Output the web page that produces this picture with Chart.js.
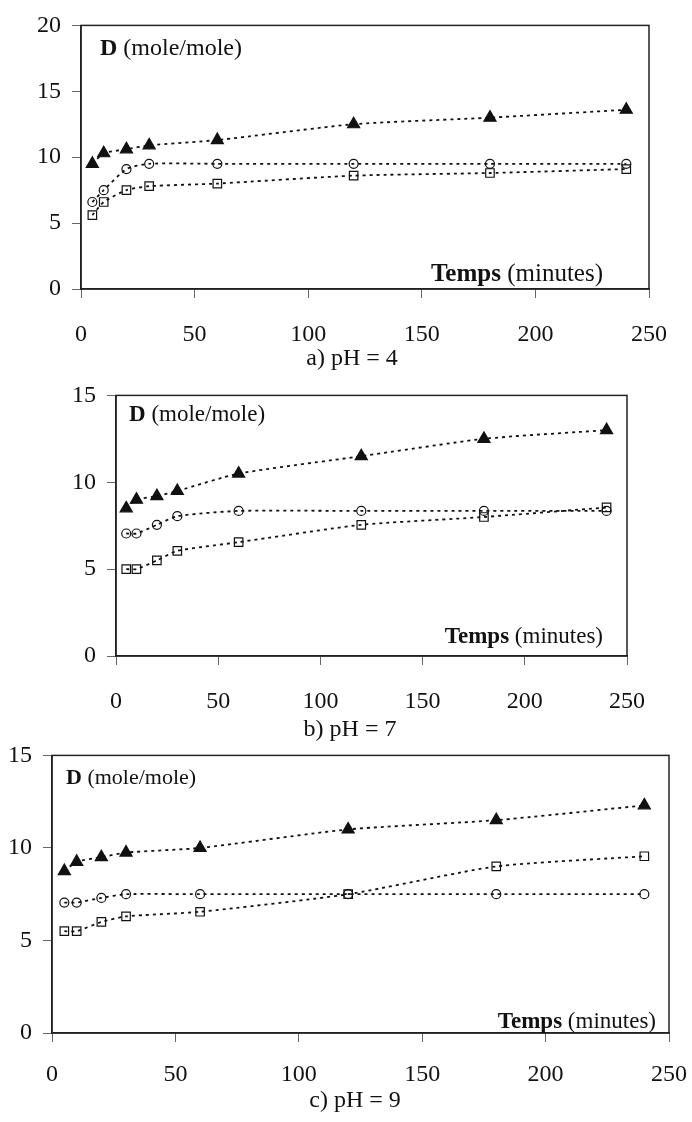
<!DOCTYPE html>
<html lang="fr">
<head>
  <meta charset="UTF-8">
  <title>D en fonction du temps</title>
  <script src="https://cdn.jsdelivr.net/npm/chart.js"></script>
  <style>
    body { margin: 0; background: #fff; font-family: "Liberation Serif", "Times New Roman", serif; }
    .box { position: absolute; left: 0; width: 692px; height: 360px; }
    .txt { position: absolute; white-space: nowrap; color: #111; line-height: 1; }
    .cap { position: absolute; font-size: 24px; color: #111; transform: translate(-50%, -50%); white-space: nowrap; }
  </style>
</head>
<body>
  <div class="box" style="top:0"><canvas id="chartA"></canvas></div>
  <div class="box" style="top:370px"><canvas id="chartB"></canvas></div>
  <div class="box" style="top:730px"><canvas id="chartC"></canvas></div>

  <!-- labels inside the plots -->
  <div class="txt" style="left:100px; top:35px; font-size:24px"><b>D</b> (mole/mole)</div>
  <div class="txt" style="right:89px; top:260px; font-size:25px"><b>Temps</b> (minutes)</div>
  <div class="txt" style="left:129px; top:402px; font-size:23px"><b>D</b> (mole/mole)</div>
  <div class="txt" style="right:89px; top:624px; font-size:23px"><b>Temps</b> (minutes)</div>
  <div class="txt" style="left:66px; top:766px; font-size:22px"><b>D</b> (mole/mole)</div>
  <div class="txt" style="right:36px; top:1009px; font-size:23px"><b>Temps</b> (minutes)</div>

  <div class="cap" style="left:352px; top:357px">a) pH = 4</div>
  <div class="cap" style="left:350px; top:728px">b) pH = 7</div>
  <div class="cap" style="left:355px; top:1099px">c) pH = 9</div>

  <script>
    // time in minutes
    const times = [5, 10, 20, 30, 60, 120, 180, 240];

    // a) pH = 4
    const triA = [9.5, 10.3, 10.6, 10.9, 11.3, 12.5, 13.0, 13.6];
    const circA = [6.6, 7.5, 9.1, 9.5, 9.5, 9.5, 9.5, 9.5];
    const squA = [5.6, 6.6, 7.5, 7.8, 8.0, 8.6, 8.8, 9.1];

    // b) pH = 7
    const triB = [8.5, 9.0, 9.2, 9.5, 10.5, 11.5, 12.5, 13.0];
    const circB = [7.05, 7.05, 7.55, 8.05, 8.35, 8.35, 8.35, 8.35];
    const squB = [5.0, 5.0, 5.5, 6.05, 6.55, 7.55, 8.0, 8.55];

    // c) pH = 9
    const triC = [8.75, 9.25, 9.5, 9.75, 10.0, 11.0, 11.5, 12.3];
    const circC = [7.05, 7.05, 7.3, 7.5, 7.5, 7.5, 7.5, 7.5];
    const squC = [5.5, 5.5, 6.0, 6.3, 6.55, 7.5, 9.0, 9.55];

    const FONT = "'Liberation Serif', 'Times New Roman', serif";

    // frame around the plot area
    const frame = {
      id: 'frame',
      afterDraw(chart) {
        const a = chart.chartArea, ctx = chart.ctx;
        ctx.save();
        ctx.strokeStyle = '#222';
        ctx.lineWidth = 1.5;
        ctx.strokeRect(a.left, a.top, a.right - a.left, a.bottom - a.top);
        ctx.restore();
      }
    };

    function pts(ys) {
      return times.map((t, i) => ({ x: t, y: ys[i] }));
    }

    function series(ys, style, radius, filled) {
      return {
        data: pts(ys),
        borderColor: '#111',
        borderWidth: 1.8,
        borderDash: [3, 4],
        tension: 0.2,
        pointStyle: style,
        pointRadius: radius,
        pointBorderWidth: 1.2,
        pointBorderColor: '#111',
        pointBackgroundColor: filled ? '#111' : 'rgba(0,0,0,0)',
        fill: false
      };
    }

    function makeChart(id, tri, circ, squ, o) {
      new Chart(document.getElementById(id), {
        type: 'line',
        data: {
          datasets: [
            series(squ, 'rect', 6, false),
            series(circ, 'circle', 4.5, false),
            series(tri, 'triangle', 7, true)
          ]
        },
        options: {
          responsive: true,
          maintainAspectRatio: false,
          animation: false,
          layout: { padding: { top: 23, right: o.right, left: 0, bottom: 0 } },
          plugins: { legend: { display: false }, tooltip: { enabled: false } },
          scales: {
            x: {
              type: 'linear',
              min: 0, max: 250,
              ticks: { stepSize: 50, padding: o.xPad, color: '#111', font: { family: FONT, size: o.font } },
              grid: { drawOnChartArea: false, tickLength: 9, color: '#666' },
              border: { color: '#222', width: 1.5 },
              afterFit: s => { s.height = o.xH; s.paddingRight = 0; s.paddingLeft = 0; }
            },
            y: {
              min: 0, max: o.yMax,
              ticks: { stepSize: 5, padding: 11, color: '#111', font: { family: FONT, size: o.font } },
              grid: { drawOnChartArea: false, tickLength: 9, color: '#666' },
              border: { color: '#222', width: 1.5 },
              afterFit: s => { s.width = o.yW; }
            }
          }
        },
        plugins: [frame]
      });
    }

    makeChart('chartA', triA, circA, squA, { yMax: 20, yW: 81, right: 43, xH: 71, xPad: 22, font: 24 });
    makeChart('chartB', triB, circB, squB, { yMax: 15, yW: 116, right: 65, xH: 74, xPad: 22, font: 24 });
    makeChart('chartC', triC, circC, squC, { yMax: 15, yW: 52, right: 23, xH: 57, xPad: 18, font: 24 });
  </script>
</body>
</html>
